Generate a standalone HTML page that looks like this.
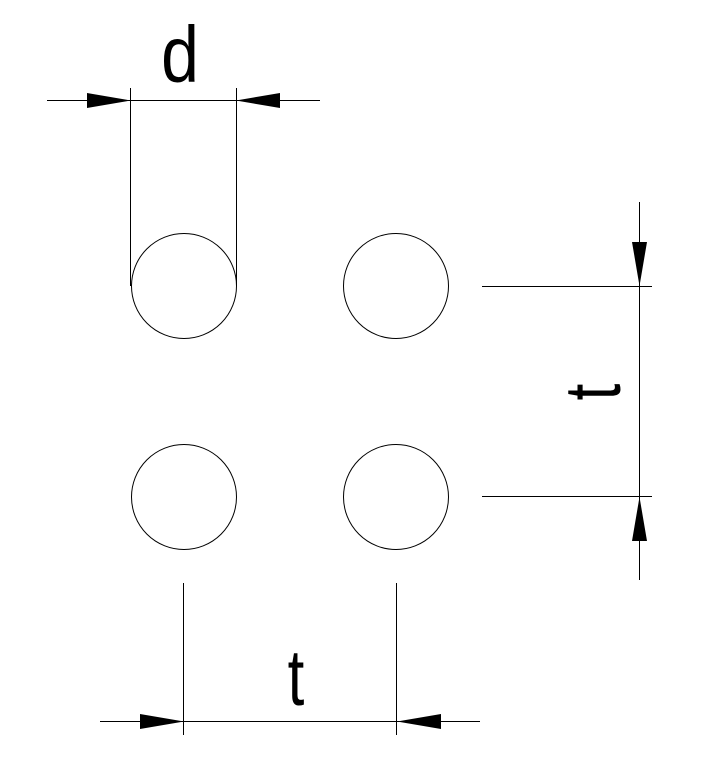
<!DOCTYPE html>
<html><head><meta charset="utf-8"><style>html,body{margin:0;padding:0;background:#fff}svg{display:block}</style></head>
<body>
<svg width="725" height="774" viewBox="0 0 725 774" xmlns="http://www.w3.org/2000/svg">
<g fill="none" stroke="#000" stroke-width="1">
<circle cx="184" cy="286" r="52.5"/>
<circle cx="396" cy="286" r="52.5"/>
<circle cx="184" cy="497" r="52.5"/>
<circle cx="396" cy="497" r="52.5"/>
<!-- top dim -->
<line x1="47" y1="100.5" x2="320" y2="100.5"/>
<line x1="130.5" y1="88" x2="130.5" y2="286"/>
<line x1="236.5" y1="88" x2="236.5" y2="286"/>
<!-- right dim -->
<line x1="639.5" y1="202" x2="639.5" y2="580"/>
<line x1="482" y1="286.5" x2="652" y2="286.5"/>
<line x1="482" y1="496.5" x2="652" y2="496.5"/>
<!-- bottom dim -->
<line x1="100" y1="721.5" x2="480" y2="721.5"/>
<line x1="183.5" y1="583" x2="183.5" y2="735"/>
<line x1="396.5" y1="583" x2="396.5" y2="735"/>
</g>
<g fill="#000">
<polygon points="87,93 131,100.5 87,108"/>
<polygon points="280,93 236,100.5 280,108"/>
<polygon points="632,242 639.5,286 647,242"/>
<polygon points="632,541 639.5,497 647,541"/>
<polygon points="140,714 184,721.5 140,729"/>
<polygon points="441,714 397,721.5 441,729"/>
</g>
<g font-family="Liberation Sans, sans-serif" font-size="80" fill="#000">
<text transform="translate(180,82) scale(0.85,1)" text-anchor="middle">d</text>
<text transform="translate(296,705) scale(0.75,1)" text-anchor="middle">t</text>
<text transform="translate(620,392) rotate(-90) scale(0.75,1)" text-anchor="middle">t</text>
</g>
</svg>
</body></html>
